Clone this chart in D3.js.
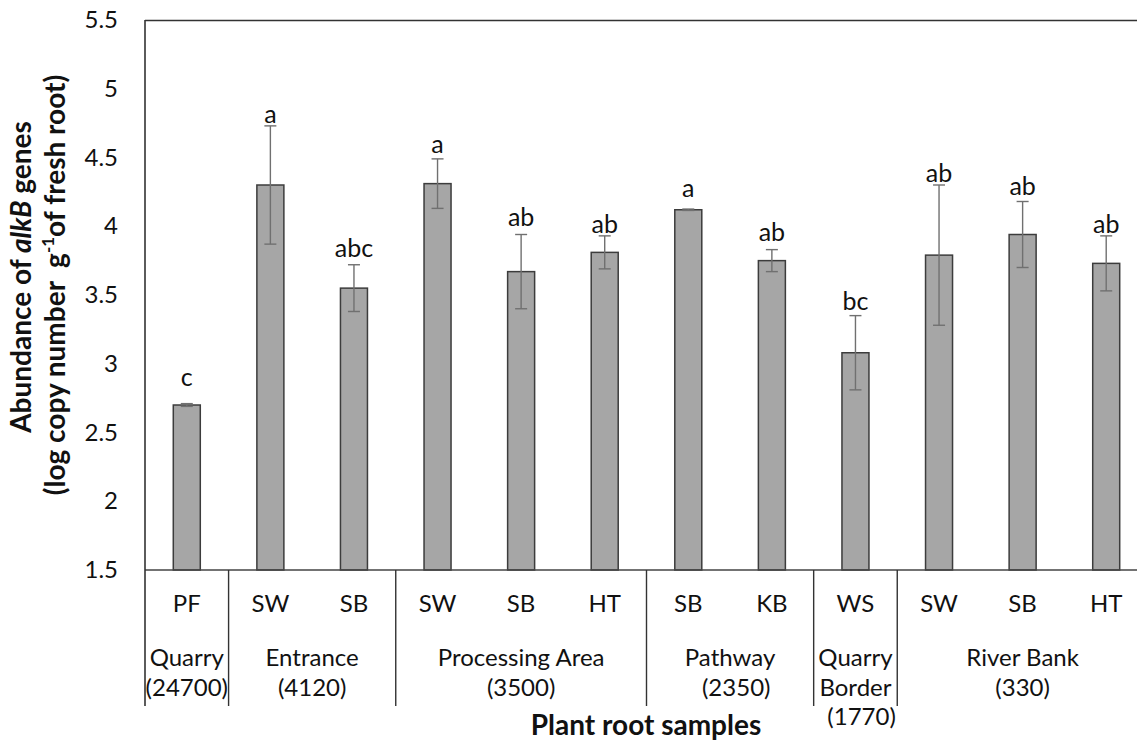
<!DOCTYPE html>
<html>
<head>
<meta charset="utf-8">
<script src="https://cdn.jsdelivr.net/npm/d3@7"></script>
<style>
  html, body { margin: 0; padding: 0; background: #fff; }
  svg { display: block; }
  text { font-family: Lato, "Open Sans", sans-serif; fill: #111; }
</style>
</head>
<body>
<svg id="chart" width="1137" height="742"></svg>
<script>
// ---- data ----
const samples   = ["PF", "SW", "SB", "SW", "SB", "HT", "SB", "KB", "WS", "SW", "SB", "HT"];
const means     = [2.70, 4.30, 3.55, 4.31, 3.67, 3.81, 4.12, 3.75, 3.08, 3.79, 3.94, 3.73];
const errors    = [0.01, 0.43, 0.17, 0.18, 0.27, 0.12, 0.005, 0.08, 0.27, 0.51, 0.24, 0.20];
const letters   = ["c", "a", "abc", "a", "ab", "ab", "a", "ab", "bc", "ab", "ab", "ab"];
const letterAt  = [2.84, 4.75, 3.78, 4.53, 4.00, 3.95, 4.21, 3.89, 3.39, 4.32, 4.23, 3.95];
const groupLabels = [
  ["Quarry", "(24700)"],
  ["Entrance", "(4120)"],
  ["Processing Area", "(3500)"],
  ["Pathway", "  (2350)"],
  ["Quarry", "Border", "  (1770)"],
  ["River Bank", "(330)"]
];
const groupSizes = [1, 2, 3, 2, 1, 3];
const yTicks = [1.5, 2, 2.5, 3, 3.5, 4, 4.5, 5, 5.5];

// ---- layout ----
const svg = d3.select("#chart");
const pL = 145, pR = 1148, pT = 20, pB = 570, sepB = 706;
const y = d3.scaleLinear().domain([1.5, 5.5]).range([pB, pT]);
const x = d3.scaleBand().domain(d3.range(samples.length)).range([pL, pR]).paddingInner(0).paddingOuter(0);
const barW = 27;

// top border
svg.append("line").attr("x1", pL).attr("x2", pR).attr("y1", y(5.5) + 0.5).attr("y2", y(5.5) + 0.5)
  .attr("stroke", "#333").attr("stroke-width", 1.6);

// y axis (tick labels only)
const yAxis = d3.axisLeft(y).tickValues(yTicks).tickSize(0).tickPadding(0)
  .tickFormat(d => String(d));
const gy = svg.append("g").attr("transform", `translate(${pL - 27},0)`).call(yAxis);
gy.select(".domain").remove();
gy.selectAll("text").style("font-size", "24px").style("font-family", "Lato, sans-serif").attr("fill", "#111");

// bars
svg.append("g").selectAll("rect").data(means).join("rect")
  .attr("x", (d, i) => x(i) + x.bandwidth() / 2 - barW / 2)
  .attr("y", d => y(d))
  .attr("width", barW)
  .attr("height", d => y(1.5) - y(d))
  .attr("fill", "#a6a6a6")
  .attr("stroke", "#3c3c3c")
  .attr("stroke-width", 1.5);

// error bars
const eg = svg.append("g").attr("stroke", "#707070").attr("stroke-width", 1.4).attr("fill", "none");
means.forEach((m, i) => {
  const cx = x(i) + x.bandwidth() / 2;
  const e = errors[i];
  eg.append("line").attr("x1", cx).attr("x2", cx).attr("y1", y(m + e)).attr("y2", y(m - e));
  eg.append("line").attr("x1", cx - 6).attr("x2", cx + 6).attr("y1", y(m + e)).attr("y2", y(m + e));
  eg.append("line").attr("x1", cx - 6).attr("x2", cx + 6).attr("y1", y(m - e)).attr("y2", y(m - e));
});

// significance letters
svg.append("g").selectAll("text").data(letters).join("text")
  .attr("x", (d, i) => x(i) + x.bandwidth() / 2)
  .attr("y", (d, i) => y(letterAt[i]))
  .attr("text-anchor", "middle")
  .style("font-size", "25px")
  .text(d => d);

// x axis line
svg.append("line").attr("x1", pL).attr("x2", pR).attr("y1", pB).attr("y2", pB)
  .attr("stroke", "#444").attr("stroke-width", 1.6);
// left axis line (extends down as first separator)
svg.append("line").attr("x1", pL).attr("x2", pL).attr("y1", pT).attr("y2", sepB)
  .attr("stroke", "#333").attr("stroke-width", 1.6);

// sample labels
svg.append("g").selectAll("text").data(samples).join("text")
  .attr("x", (d, i) => x(i) + x.bandwidth() / 2)
  .attr("y", 612)
  .attr("text-anchor", "middle")
  .style("font-size", "24px")
  .text(d => d);

// group separators and labels
let start = 0;
const gg = svg.append("g");
groupSizes.forEach((n, gi) => {
  const x0 = x(start), x1 = start + n < samples.length ? x(start + n) : pR;
  gg.append("line").attr("x1", x1).attr("x2", x1).attr("y1", pB).attr("y2", sepB)
    .attr("stroke", "#333").attr("stroke-width", 1.4);
  const t = gg.append("text").attr("text-anchor", "middle").style("font-size", "24px")
    .style("white-space", "pre");
  groupLabels[gi].forEach((line, li) => {
    t.append("tspan").attr("x", (x0 + x1) / 2).attr("y", 666 + li * 29.5).text(line);
  });
  start += n;
});

// x title
svg.append("text").attr("x", 646).attr("y", 735).attr("text-anchor", "middle")
  .style("font-size", "28px").style("font-weight", "bold")
  .text("Plant root samples");

// y title
const yt = svg.append("text").attr("transform", "translate(31,277) rotate(-90)")
  .attr("text-anchor", "middle").style("font-size", "28px").style("font-weight", "bold");
yt.append("tspan").text("Abundance of ");
yt.append("tspan").style("font-style", "italic").text("alkB");
yt.append("tspan").text(" genes");

const yt2 = svg.append("text").attr("transform", "translate(65,285) rotate(-90)")
  .attr("text-anchor", "middle").style("font-size", "28px").style("font-weight", "bold")
  .style("white-space", "pre");
yt2.append("tspan").text("(log copy number  g");
yt2.append("tspan").attr("dy", -11).style("font-size", "17px").text("-1");
yt2.append("tspan").attr("dy", 11).text("of fresh root)");
</script>
</body>
</html>
